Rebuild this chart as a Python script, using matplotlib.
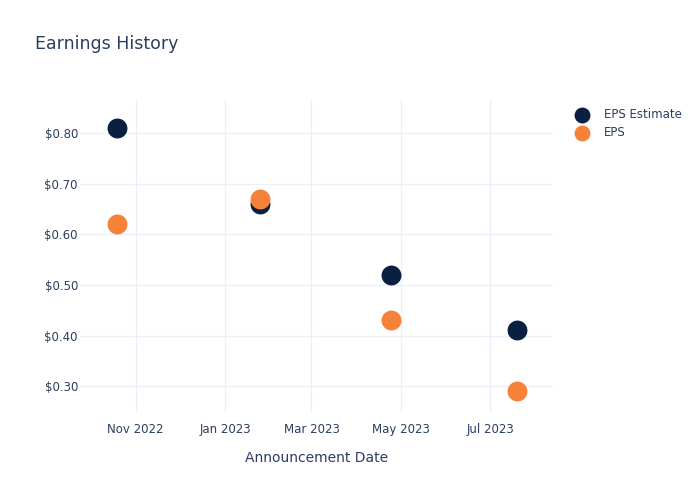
import matplotlib
matplotlib.use("Agg")
import matplotlib.pyplot as plt
import matplotlib.dates as mdates
import numpy as np
import datetime as dt

dates = ["2022-10-19", "2023-01-25", "2023-04-24", "2023-07-19"]
eps_estimate = [0.81, 0.66, 0.52, 0.41]
eps_actual = [0.62, 0.67, 0.43, 0.29]
series_names = ["EPS Estimate", "EPS"]
title = "Earnings History"
xlabel = "Announcement Date"

x = [dt.datetime.strptime(d, "%Y-%m-%d") for d in dates]
text_color = "#2a3f5f"
grid_color = "#ebf0f8"
navy = "#0b1f41"
orange = "#f6823a"

fig = plt.figure(figsize=(7, 5), dpi=100)
ax = fig.add_axes([0.1143, 0.176, 0.676, 0.624])
ax.scatter(x, eps_estimate, s=205, color=navy, zorder=3, label=series_names[0], linewidths=0)
ax.scatter(x, eps_actual, s=205, color=orange, zorder=4, label=series_names[1], linewidths=0)

ax.set_xlim(dt.datetime(2022, 9, 24), dt.datetime(2023, 8, 13))
ax.set_ylim(0.249, 0.865)
ax.set_yticks([0.3, 0.4, 0.5, 0.6, 0.7, 0.8])
ax.yaxis.set_major_formatter(matplotlib.ticker.FuncFormatter(lambda v, p: f"${v:.2f}"))
ax.set_xticks([dt.datetime(2022, 11, 1), dt.datetime(2023, 1, 1), dt.datetime(2023, 3, 1),
               dt.datetime(2023, 5, 1), dt.datetime(2023, 7, 1)])
ax.xaxis.set_major_formatter(mdates.DateFormatter("%b %Y"))

for s in ax.spines.values():
    s.set_visible(False)
ax.grid(True, color=grid_color, linewidth=1, zorder=0)
ax.set_axisbelow(True)
ax.tick_params(length=0, labelsize=8.5, colors=text_color)
ax.tick_params(axis="y", pad=1.5)
ax.tick_params(axis="x", pad=8)
ax.set_xlabel(xlabel, fontsize=10, color=text_color, labelpad=11)

fig.text(0.05, 0.912, title, fontsize=12.5, color=text_color, va="center")

leg = fig.legend(loc="upper left", bbox_to_anchor=(0.8, 0.805), frameon=False,
                 fontsize=8.5, labelcolor=text_color, handletextpad=0.8,
                 labelspacing=0.45, markerscale=0.8)

fig.savefig("out.png", dpi=100)
